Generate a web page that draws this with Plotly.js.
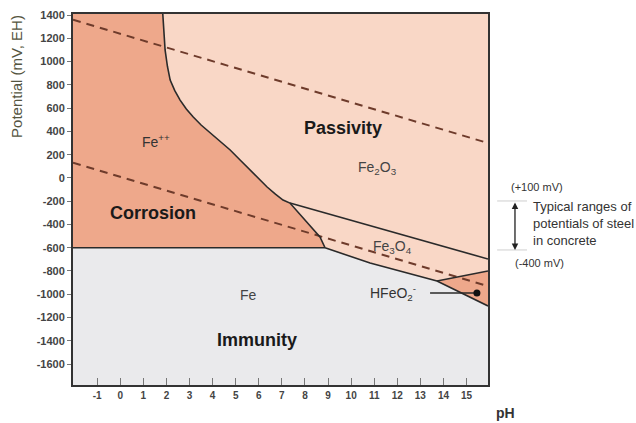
<!DOCTYPE html>
<html>
<head>
<meta charset="utf-8">
<script src="https://cdn.plot.ly/plotly-3.0.1.min.js"></script>
<style>html,body{margin:0;padding:0;background:#fff;}#chart{width:636px;height:423px;}</style>
</head>
<body>
<div id="chart"></div>
<script>
// ---- data ----
const xTicks = [-1,0,1,2,3,4,5,6,7,8,9,10,11,12,13,14,15];
const yTicks = [-1600,-1400,-1200,-1000,-800,-600,-400,-200,0,200,400,600,800,1000,1200,1400];
const xRange = [-2.05, 15.93];
const yRange = [-1780, 1409];

// Fe++ / oxide boundary (corrosion vs passivity / Fe3O4)
const corrPH = [1.84,1.86,1.88,1.94,2.04,2.16,2.36,2.59,2.86,3.16,3.5,3.89,4.3,4.76,5.2,5.62,6.0,6.36,6.72,7.05,7.35,8.0,8.65,8.87];
const corrV  = [1409,1330,1271,1100,960,841,750,669,592,523,455,386,313,240,152,68,-8,-78,-140,-190,-216,-360,-508,-600];
// Fe++ / Fe boundary
const ironCorrPH = [-2.05, 8.87];
const ironCorrV  = [-600, -600];
// Fe2O3 / Fe3O4 boundary
const fe3o4TopPH = [7.35, 15.93];
const fe3o4TopV  = [-216, -697];
// Fe / Fe3O4 and Fe / HFeO2- boundary
const ironTopPH = [8.87, 10.82, 13.72, 15.93];
const ironTopV  = [-600, -732, -886, -1101];
// Fe3O4 / HFeO2- boundary
const hfeo2PH = [13.72, 15.93];
const hfeo2V  = [-886, -800];
// water stability lines (dashed)
const o2PH = [-2.05, 15.93];
const o2V  = [1360, 300];
const h2PH = [-2.05, 15.93];
const h2V  = [130, -930];
// HFeO2- leader
const leaderPH = [13.42, 15.45];
const leaderV  = [-989, -989];

// ---- styles ----
const cCorr = '#EEA88B';
const cPass = '#F9D7C6';
const cImm  = '#EAEAEC';
const lineC = '#2a2a2a';
const dashC = '#6e3b2b';

const idxJ = corrPH.indexOf(7.35);

// polygons built from the boundary arrays
const corrPolyX = [xRange[0]].concat(corrPH, [ironCorrPH[0]]);
const corrPolyY = [yRange[1]].concat(corrV, [ironCorrV[0]]);

const passPolyX = corrPH.slice(0, idxJ + 1).concat([fe3o4TopPH[1], xRange[1]]);
const passPolyY = corrV.slice(0, idxJ + 1).concat([fe3o4TopV[1], yRange[1]]);

const fe3PolyX = [fe3o4TopPH[0], fe3o4TopPH[1], hfeo2PH[1], hfeo2PH[0], ironTopPH[1], ironTopPH[0]].concat(corrPH.slice(idxJ + 1).reverse().slice(1));
const fe3PolyY = [fe3o4TopV[0], fe3o4TopV[1], hfeo2V[1], hfeo2V[0], ironTopV[1], ironTopV[0]].concat(corrV.slice(idxJ + 1).reverse().slice(1));

const hfPolyX = [hfeo2PH[0], hfeo2PH[1], ironTopPH[3]];
const hfPolyY = [hfeo2V[0], hfeo2V[1], ironTopV[3]];

function fillTrace(x, y, color) {
  return {x: x, y: y, type: 'scatter', mode: 'lines', fill: 'toself', fillcolor: color,
          line: {width: 0, color: color}, hoverinfo: 'skip', showlegend: false};
}
function lineTrace(x, y, color, width, dash) {
  return {x: x, y: y, type: 'scatter', mode: 'lines',
          line: {color: color, width: width, dash: dash || 'solid'}, hoverinfo: 'skip', showlegend: false};
}

const traces = [
  fillTrace(corrPolyX, corrPolyY, cCorr),
  fillTrace(passPolyX, passPolyY, cPass),
  fillTrace(fe3PolyX, fe3PolyY, cPass),
  fillTrace(hfPolyX, hfPolyY, cCorr),
  lineTrace(o2PH, o2V, dashC, 2, '8px,6px'),
  lineTrace(h2PH, h2V, dashC, 2, '8px,6px'),
  lineTrace(corrPH, corrV, lineC, 1.6),
  lineTrace(ironCorrPH, ironCorrV, lineC, 1.6),
  lineTrace(fe3o4TopPH, fe3o4TopV, lineC, 1.6),
  lineTrace(ironTopPH, ironTopV, lineC, 1.6),
  lineTrace(hfeo2PH, hfeo2V, lineC, 1.6),
  lineTrace(leaderPH, leaderV, lineC, 1.4),
  {x: [leaderPH[1]], y: [leaderV[1]], type: 'scatter', mode: 'markers',
   marker: {color: '#111', size: 7}, hoverinfo: 'skip', showlegend: false}
];

const F = 'Liberation Sans, Arial, sans-serif';
function lab(text, x, y, size, bold, color) {
  return {text: text, x: x, y: y, xref: 'x', yref: 'y', showarrow: false,
          xanchor: 'center', yanchor: 'middle',
          font: {family: F, size: size, color: color || '#111', weight: bold ? 'bold' : 'normal'}};
}
function plab(text, x, y, size, color, extra) {
  const a = {text: text, x: x, y: y, xref: 'paper', yref: 'paper', showarrow: false,
             xanchor: 'center', yanchor: 'middle', font: {family: F, size: size, color: color}};
  return Object.assign(a, extra || {});
}

const annotations = [
  lab('Fe<sup>++</sup>', 1.55, 320, 14, false, '#333'),
  lab('Corrosion', 1.42, -300, 18, true, '#1a1a1a'),
  lab('Passivity', 9.65, 429, 18, true, '#1a1a1a'),
  lab('Fe<sub>2</sub>O<sub>3</sub>', 11.16, 85, 14, false, '#444'),
  lab('Fe<sub>3</sub>O<sub>4</sub>', 11.8, -590, 14, false, '#444'),
  lab('Fe', 5.54, -1005, 14, false, '#444'),
  lab('Immunity', 5.93, -1393, 18, true, '#1a1a1a'),
  lab('HFeO<sub>2</sub><sup>-</sup>', 11.8, -985, 14, false, '#333'),
  plab('Potential (mV, EH)', -0.135, 0.833, 15, '#55553f', {textangle: -90}),
  plab('pH', 1.043, -0.075, 14, '#333', {font: {family: F, size: 14, color: '#333', weight: 'bold'}}),
  plab('(+100 mV)', 1.118, 0.534, 11, '#333'),
  plab('Typical ranges of<br>potentials of steel<br>in concrete', 1.104, 0.507, 13, '#333',
       {xanchor: 'left', yanchor: 'top', align: 'left'}),
  plab('(-400 mV)', 1.125, 0.329, 11, '#333'),
  {text: '', xref: 'paper', yref: 'paper', x: 1.065, y: 0.364, ax: 0, ay: -49,
   showarrow: true, arrowhead: 2, arrowside: 'end+start', arrowsize: 1, arrowwidth: 1.3,
   arrowcolor: '#222', standoff: 0, startstandoff: 0}
];

const shapes = [
  {type: 'line', xref: 'paper', yref: 'paper', x0: 1.022, x1: 1.094, y0: 0.496, y1: 0.496,
   line: {color: '#cfcfcf', width: 1}},
  {type: 'line', xref: 'paper', yref: 'paper', x0: 1.022, x1: 1.094, y0: 0.364, y1: 0.364,
   line: {color: '#cfcfcf', width: 1}}
];

const layout = {
  width: 636, height: 423,
  margin: {l: 73, r: 148, t: 14, b: 38},
  paper_bgcolor: '#ffffff',
  plot_bgcolor: cImm,
  showlegend: false,
  xaxis: {range: xRange, tickvals: xTicks, ticktext: xTicks.map(String), ticks: 'inside', ticklen: 7,
          tickcolor: '#777', tickwidth: 1, showgrid: false, zeroline: false, showline: true, mirror: true,
          linecolor: '#333', linewidth: 2, tickfont: {family: F, size: 10, color: '#444', weight: 'bold'}},
  yaxis: {range: yRange, tickvals: yTicks, ticktext: yTicks.map(String), ticks: 'outside', ticklen: 4,
          tickcolor: '#777', tickwidth: 1, showgrid: false, zeroline: false, showline: true, mirror: true,
          linecolor: '#333', linewidth: 2, tickfont: {family: F, size: 11, color: '#444', weight: 'bold'}},
  annotations: annotations,
  shapes: shapes
};

Plotly.newPlot('chart', traces, layout, {displayModeBar: false, staticPlot: true});
</script>
</body>
</html>
